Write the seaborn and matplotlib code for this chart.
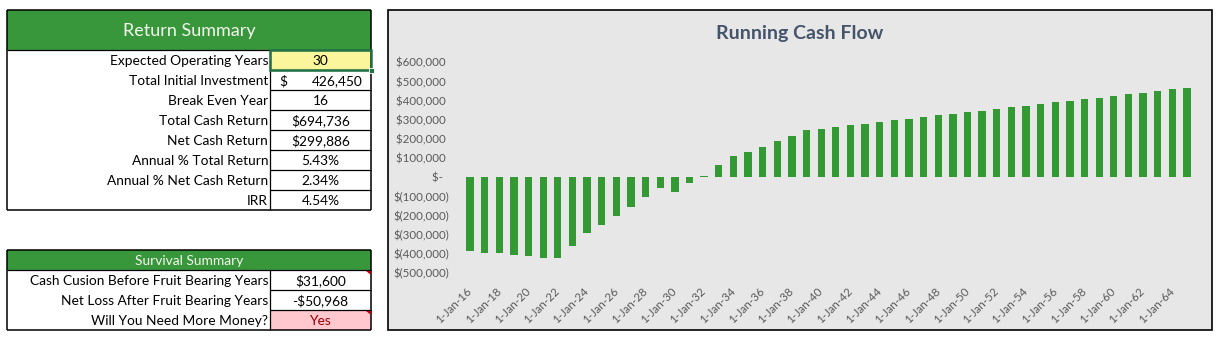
import matplotlib
matplotlib.use("Agg")
import matplotlib.pyplot as plt
from matplotlib.patches import Rectangle, Polygon
import seaborn as sns
import pandas as pd

# ---------------- data ----------------
years = list(range(2016, 2066))
cash_flow = [-388000, -398000, -398000, -409000, -414000, -424000, -424000,
             -362000, -294000, -252000, -205000, -158000, -106000, -59000,
             -80000, -33000, 8000, 64000, 111000, 132000, 158000, 190000,
             216000, 247000, 252000, 263000, 273000, 278000, 289000, 299000,
             304000, 315000, 325000, 330000, 341000, 346000, 357000, 367000,
             372000, 383000, 393000, 398000, 409000, 414000, 424000, 435000,
             440000, 450000, 461000, 466000]
y_ticks = [-500000, -400000, -300000, -200000, -100000, 0, 100000, 200000,
           300000, 400000, 500000, 600000]

return_labels = ["Expected Operating Years", "Total Initial Investment",
                 "Break Even Year", "Total Cash Return", "Net Cash Return",
                 "Annual % Total Return", "Annual % Net Cash Return", "IRR"]
return_values = ["30", "426,450", "16", "$694,736", "$299,886", "5.43%",
                 "2.34%", "4.54%"]
survival_labels = ["Cash Cusion Before Fruit Bearing Years",
                   "Net Loss After Fruit Bearing Years",
                   "Will You Need More Money?"]
survival_values = ["$31,600", "-$50,968", "Yes"]

# ---------------- style ----------------
sns.set_theme(style="white")
plt.rcParams["font.family"] = ["Lato", "DejaVu Sans"]

GREEN = "#339933"
HEAD_GREEN = "#37973A"
PANEL = "#E7E7E7"
W, H = 1221, 364
fig = plt.figure(figsize=(W / 100, H / 100), dpi=100)
fig.patch.set_facecolor("white")

# overlay axes in pixel coordinates
ov = fig.add_axes([0, 0, 1, 1])
ov.set_xlim(0, W)
ov.set_ylim(H, 0)
ov.axis("off")
ov.set_zorder(0)

BODY = 9.9
DY = 1.2

def line(x0, y0, x1, y1, lw=1.0, c="black"):
    ov.plot([x0, x1], [y0, y1], color=c, lw=lw, solid_capstyle="butt")

# ----- Return Summary table -----
x0, xm, x1 = 7, 270, 371
top, hb = 10, 50
rh = 20
ov.add_patch(Rectangle((x0, top), x1 - x0, hb - top, facecolor=HEAD_GREEN, edgecolor="none"))
ov.text((x0 + x1) / 2, (top + hb) / 2 + 1, "Return Summary", color="#F4F7EE",
        fontsize=13, ha="center", va="center")
bottom = hb + rh * len(return_labels)
# yellow selected cell
ov.add_patch(Rectangle((xm, hb), x1 - xm, rh, facecolor="#FBF69B", edgecolor="none"))
for i, (lab, val) in enumerate(zip(return_labels, return_values)):
    yc = hb + rh * i + rh / 2 + DY
    ov.text(xm - 2, yc, lab, fontsize=BODY, ha="right", va="center", color="black")
    if i == 1:
        ov.text(279, yc, "$", fontsize=BODY, ha="left", va="center", color="black")
        ov.text(363, yc, val, fontsize=BODY, ha="right", va="center", color="black")
    else:
        ov.text((xm + x1) / 2, yc, val, fontsize=BODY, ha="center", va="center", color="black")
    if i > 0:
        line(xm, hb + rh * i, x1, hb + rh * i, lw=0.9)
line(xm, hb, xm, bottom, lw=0.9)
line(x0, top, x0, bottom, lw=1.1)
line(x1, top, x1, bottom, lw=1.1)
line(x0, top, x1, top, lw=1.1)
line(x0, bottom, x1, bottom, lw=1.1)
line(x0, hb, x1, hb, lw=0.9)
# selection border
ov.add_patch(Rectangle((xm, hb), x1 - xm, rh, facecolor="none", edgecolor="#217346", lw=1.8, zorder=5))
ov.add_patch(Rectangle((x1 - 2, hb + rh - 2), 4.5, 4.5, facecolor="#217346", edgecolor="white", lw=0.6, zorder=6))

# ----- Survival Summary table -----
top2, hb2 = 250, 270
ov.add_patch(Rectangle((x0, top2), x1 - x0, hb2 - top2, facecolor=HEAD_GREEN, edgecolor="none"))
ov.text((x0 + x1) / 2, (top2 + hb2) / 2 + DY, "Survival Summary", color="#F4F7EE",
        fontsize=BODY, ha="center", va="center")
bottom2 = hb2 + rh * len(survival_labels)
ov.add_patch(Rectangle((xm, hb2 + rh * 2), x1 - xm, rh, facecolor="#FFC7CE", edgecolor="none"))
for i, (lab, val) in enumerate(zip(survival_labels, survival_values)):
    yc = hb2 + rh * i + rh / 2 + DY
    ov.text(xm - 2, yc, lab, fontsize=BODY, ha="right", va="center", color="black")
    ov.text((xm + x1) / 2, yc, val, fontsize=BODY, ha="center", va="center",
            color="#9C0006" if val == "Yes" else "black")
    if i > 0:
        line(xm, hb2 + rh * i, x1, hb2 + rh * i, lw=0.9)
line(xm, hb2, xm, bottom2, lw=0.9)
line(x0, top2, x0, bottom2, lw=1.1)
line(x1, top2, x1, bottom2, lw=1.1)
line(x0, top2, x1, top2, lw=1.1)
line(x0, bottom2, x1, bottom2, lw=1.1)
line(x0, hb2, x1, hb2, lw=0.9)
for i in (0, 2):
    yt = hb2 + rh * i
    ov.add_patch(Polygon([(x1 - 5, yt + 0.5), (x1 - 0.5, yt + 0.5), (x1 - 0.5, yt + 5)],
                         closed=True, facecolor="#C00000", edgecolor="none", zorder=6))

# ----- chart panel -----
px0, py0, px1, py1 = 387.5, 10, 1212, 330
ov.add_patch(Rectangle((px0, py0), px1 - px0, py1 - py0, facecolor=PANEL,
                       edgecolor="black", lw=1.2))
ov.text((px0 + px1) / 2, 33, "Running Cash Flow", fontsize=14, fontweight="bold",
        color="#44546A", ha="center", va="center")

# ----- bar chart -----
ax_l, ax_r = 462.7, 1194.3
ax_t, ax_b = 62.3, 272.8
ax = fig.add_axes([ax_l / W, (H - ax_b) / H, (ax_r - ax_l) / W, (ax_b - ax_t) / H])
ax.set_zorder(1)
ax.patch.set_alpha(0)

labels = [f"1-Jan-{y % 100:02d}" for y in years]
df = pd.DataFrame({"date": labels, "cash": cash_flow})
sns.barplot(data=df, x="date", y="cash", color=GREEN, saturation=1, width=0.5,
            linewidth=0, edgecolor="none", ax=ax)

ax.set_xlim(-0.5, len(years) - 0.5)
ax.set_ylim(y_ticks[0], y_ticks[-1])
ax.set_yticks(y_ticks)

def fmt(v):
    if v == 0:
        return "$-  "
    if v < 0:
        return f"$({abs(v):,.0f})"
    return f"${v:,.0f} "

ax.set_yticklabels([fmt(v) for v in y_ticks], fontsize=8.3, color="#595959")
idx = list(range(0, len(years), 2))
ax.set_xticks(idx)
ax.set_xticklabels([labels[i] for i in idx], fontsize=8.3, color="#595959",
                   rotation=45, ha="right", va="center", rotation_mode="anchor")
ax.tick_params(axis="x", length=0, pad=12)
ax.tick_params(axis="y", length=0, pad=10)
ax.set_xlabel("")
ax.set_ylabel("")
for s in ax.spines.values():
    s.set_visible(False)
ax.grid(False)

fig.savefig("out.png", dpi=100, facecolor="white")
